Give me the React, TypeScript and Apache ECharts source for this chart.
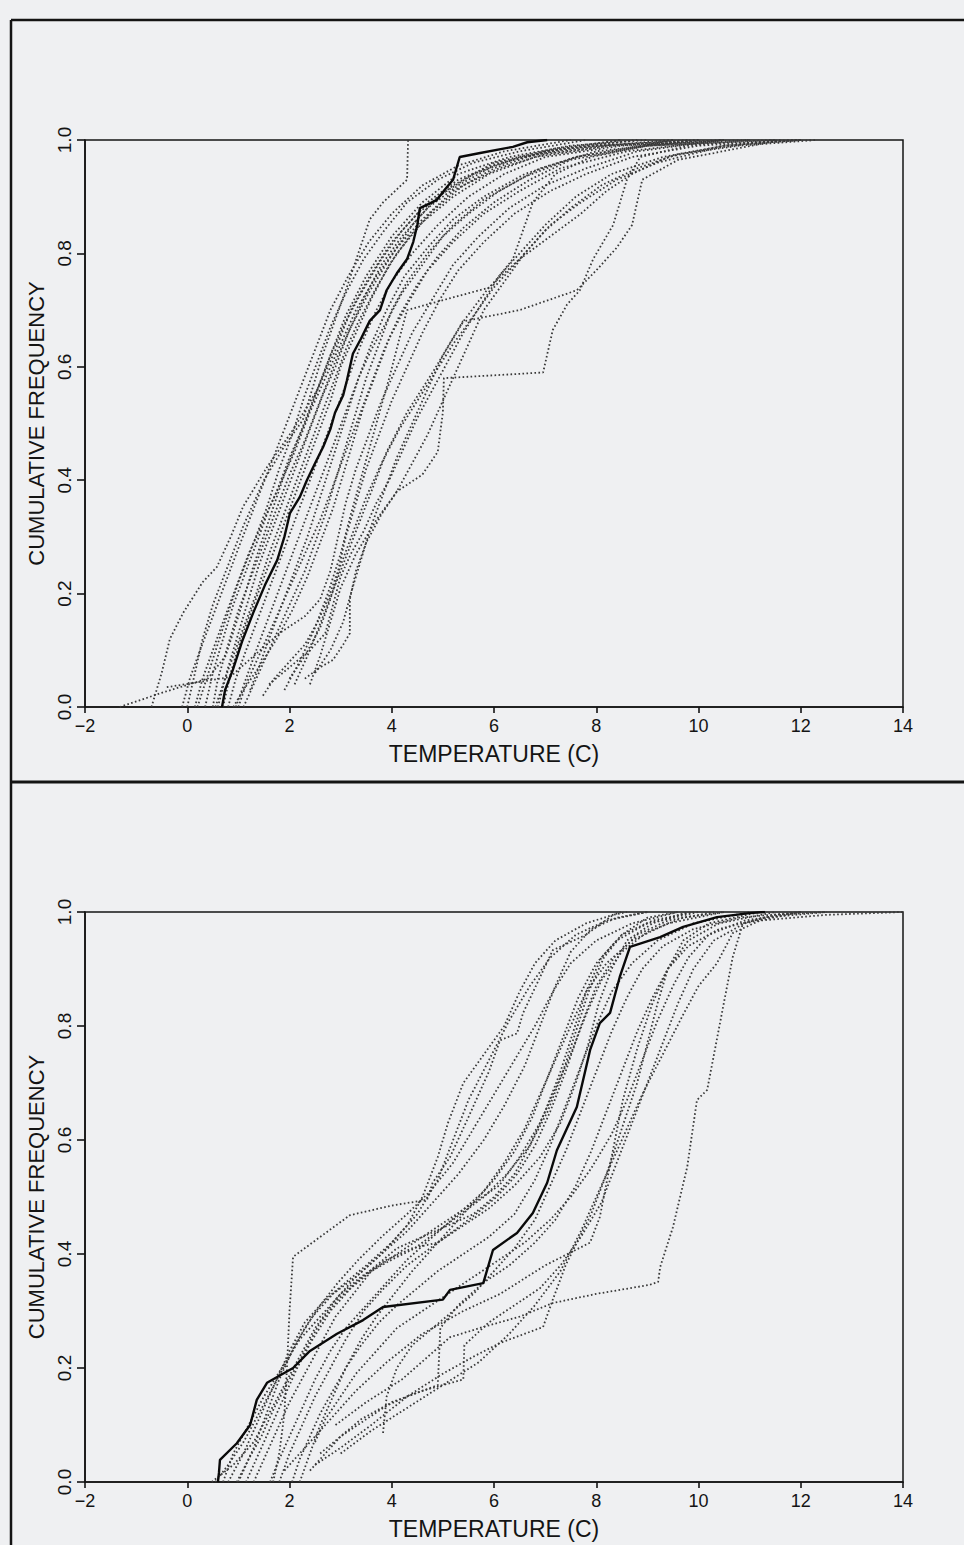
import React, { useEffect, useRef } from "react";
import * as echarts from "echarts";

type Pt = [number, number];

// ---------- axis ticks ----------
const X_MIN = -2;
const X_MAX = 14;
const X_STEP = 2;
const Y_MIN = 0;
const Y_MAX = 1;
const Y_STEP = 0.2;

// ---------- TOP PANEL ----------
const TOP_OBSERVED: Pt[] = [
  [0.68, 0.0], [0.74, 0.03], [0.89, 0.065], [1.07, 0.115], [1.29, 0.166], [1.52, 0.215],
  [1.76, 0.259], [1.9, 0.3], [2.01, 0.342], [2.2, 0.37], [2.34, 0.4], [2.5, 0.43],
  [2.66, 0.459], [2.8, 0.49], [2.89, 0.519], [3.05, 0.55], [3.12, 0.575], [3.24, 0.623],
  [3.4, 0.65], [3.57, 0.681], [3.77, 0.7], [3.9, 0.735], [4.1, 0.765], [4.3, 0.79],
  [4.42, 0.82], [4.5, 0.85], [4.55, 0.88], [4.88, 0.894], [5.08, 0.917], [5.2, 0.93],
  [5.33, 0.97], [5.73, 0.977], [6.37, 0.988], [6.65, 0.996], [7.04, 1.0],
];

const TOP_SIM_01: Pt[] = [[-1.32, 0.0], [-0.5, 0.025], [0.4, 0.05], [0.75, 0.09], [1.0, 0.16], [1.3, 0.25], [1.6, 0.33], [1.9, 0.41], [2.2, 0.48], [2.5, 0.55], [2.8, 0.62], [3.1, 0.69], [3.5, 0.76], [4.0, 0.83], [4.6, 0.89], [5.3, 0.94], [6.3, 0.97], [7.5, 0.99], [9.0, 1.0]];
const TOP_SIM_02: Pt[] = [[-0.7, 0.0], [-0.5, 0.06], [-0.34, 0.12], [-0.08, 0.166], [0.3, 0.22], [0.58, 0.247], [0.85, 0.3], [1.09, 0.353], [1.56, 0.423], [2.07, 0.489], [2.54, 0.559], [2.9, 0.63], [3.2, 0.7], [3.57, 0.76], [4.0, 0.82], [4.5, 0.87], [5.2, 0.92], [6.0, 0.96], [7.2, 0.985], [8.5, 1.0]];
const TOP_SIM_03: Pt[] = [[0.0, 0.0], [0.15, 0.06], [0.3, 0.12], [0.5, 0.18], [0.8, 0.25], [1.1, 0.32], [1.5, 0.4], [1.9, 0.46], [2.26, 0.506], [2.66, 0.624], [3.12, 0.74], [3.57, 0.86], [3.83, 0.89], [4.3, 0.93], [4.32, 1.0]];
const TOP_SIM_04: Pt[] = [[0.15, 0.0], [0.3, 0.05], [0.5, 0.1], [0.7, 0.15], [0.95, 0.21], [1.2, 0.27], [1.5, 0.33], [1.75, 0.38], [2.0, 0.44], [2.3, 0.5], [2.55, 0.56], [2.8, 0.62], [3.1, 0.68], [3.4, 0.73], [3.8, 0.79], [4.2, 0.84], [4.7, 0.89], [5.3, 0.93], [6.1, 0.96], [7.4, 0.985], [9.5, 1.0]];
const TOP_SIM_05: Pt[] = [[0.35, 0.0], [0.5, 0.06], [0.7, 0.12], [0.9, 0.18], [1.15, 0.24], [1.4, 0.3], [1.6, 0.35], [1.85, 0.4], [2.1, 0.45], [2.4, 0.52], [2.7, 0.58], [3.0, 0.64], [3.3, 0.7], [3.7, 0.76], [4.1, 0.81], [4.6, 0.86], [5.2, 0.91], [6.0, 0.95], [7.0, 0.98], [8.8, 1.0]];
const TOP_SIM_06: Pt[] = [[0.5, 0.0], [0.6, 0.05], [0.8, 0.11], [1.0, 0.17], [1.25, 0.23], [1.5, 0.29], [1.75, 0.35], [2.0, 0.41], [2.3, 0.47], [2.6, 0.54], [2.9, 0.61], [3.2, 0.67], [3.55, 0.73], [3.95, 0.79], [4.4, 0.85], [4.9, 0.9], [5.6, 0.94], [6.5, 0.97], [8.0, 0.99], [10.0, 1.0]];
const TOP_SIM_07: Pt[] = [[0.55, 0.0], [0.7, 0.04], [0.9, 0.09], [1.1, 0.14], [1.35, 0.2], [1.6, 0.27], [1.85, 0.33], [2.1, 0.39], [2.35, 0.45], [2.6, 0.51], [2.85, 0.57], [3.1, 0.63], [3.35, 0.68], [3.7, 0.74], [4.1, 0.8], [4.6, 0.855], [5.2, 0.9], [5.9, 0.94], [6.8, 0.97], [8.3, 0.99], [11.0, 1.0]];
const TOP_SIM_08: Pt[] = [[0.8, 0.0], [0.95, 0.05], [1.15, 0.1], [1.4, 0.16], [1.65, 0.22], [1.9, 0.28], [2.15, 0.34], [2.4, 0.4], [2.65, 0.46], [2.9, 0.52], [3.15, 0.58], [3.4, 0.64], [3.7, 0.7], [4.0, 0.75], [4.4, 0.8], [4.9, 0.85], [5.5, 0.9], [6.2, 0.94], [7.0, 0.97], [8.5, 0.99], [10.5, 1.0]];
const TOP_SIM_09: Pt[] = [[1.0, 0.0], [1.15, 0.04], [1.4, 0.09], [1.7, 0.15], [2.0, 0.21], [2.3, 0.27], [2.6, 0.33], [2.85, 0.39], [3.1, 0.45], [3.35, 0.51], [3.6, 0.57], [3.85, 0.63], [4.15, 0.69], [4.5, 0.745], [4.9, 0.795], [5.4, 0.845], [6.0, 0.89], [6.7, 0.93], [7.5, 0.965], [9.0, 0.99], [11.5, 1.0]];
const TOP_SIM_10: Pt[] = [[1.23, 0.03], [1.4, 0.07], [1.6, 0.12], [1.85, 0.18], [2.1, 0.24], [2.35, 0.3], [2.6, 0.37], [2.85, 0.44], [3.1, 0.51], [3.35, 0.58], [3.6, 0.64], [3.9, 0.7], [4.25, 0.76], [4.7, 0.81], [5.2, 0.86], [5.8, 0.9], [6.6, 0.94], [7.6, 0.97], [9.0, 0.99], [12.0, 1.0]];
const TOP_SIM_11: Pt[] = [[1.48, 0.02], [1.7, 0.05], [2.0, 0.08], [2.3, 0.11], [2.55, 0.15], [2.75, 0.19], [2.95, 0.24], [3.1, 0.3], [3.3, 0.36], [3.5, 0.42], [3.75, 0.48], [4.0, 0.54], [4.3, 0.6], [4.6, 0.66], [4.95, 0.72], [5.3, 0.77], [5.8, 0.82], [6.4, 0.87], [7.1, 0.91], [7.8, 0.94], [8.7, 0.97], [10.0, 0.99], [12.0, 1.0]];
const TOP_SIM_12: Pt[] = [[1.6, 0.04], [2.0, 0.07], [2.4, 0.1], [2.7, 0.13], [2.85, 0.18], [3.0, 0.23], [3.2, 0.27], [3.45, 0.31], [3.7, 0.36], [3.95, 0.4], [4.2, 0.45], [4.5, 0.51], [4.8, 0.56], [5.1, 0.61], [5.4, 0.66], [5.75, 0.71], [6.1, 0.76], [6.5, 0.8], [7.0, 0.85], [7.6, 0.9], [8.3, 0.94], [9.3, 0.97], [10.5, 0.99], [12.0, 1.0]];
const TOP_SIM_13: Pt[] = [[2.3, 0.05], [2.6, 0.07], [2.85, 0.083], [3.05, 0.11], [3.18, 0.13], [3.18, 0.19], [3.3, 0.24], [3.5, 0.29], [3.8, 0.34], [4.1, 0.38], [4.4, 0.43], [4.7, 0.48], [4.95, 0.53], [5.2, 0.58], [5.5, 0.64], [5.8, 0.7], [6.2, 0.75], [6.6, 0.8], [7.1, 0.85], [7.7, 0.89], [8.4, 0.93], [9.2, 0.96], [10.3, 0.985], [11.5, 1.0]];
const TOP_SIM_14: Pt[] = [[2.4, 0.04], [2.6, 0.09], [2.8, 0.15], [3.0, 0.21], [3.3, 0.27], [3.7, 0.33], [4.1, 0.38], [4.6, 0.41], [4.9, 0.45], [5.0, 0.52], [5.02, 0.58], [6.0, 0.585], [6.96, 0.59], [7.15, 0.665], [7.43, 0.71], [7.68, 0.735], [7.94, 0.79], [8.33, 0.85], [8.6, 0.93], [8.86, 0.97], [9.8, 0.99], [11.0, 1.0]];
const TOP_SIM_15: Pt[] = [[1.9, 0.03], [2.2, 0.08], [2.5, 0.14], [2.75, 0.2], [3.0, 0.27], [3.2, 0.34], [3.45, 0.42], [3.7, 0.5], [3.95, 0.58], [4.15, 0.65], [4.3, 0.7], [5.1, 0.72], [5.92, 0.74], [6.37, 0.79], [6.76, 0.89], [7.2, 0.94], [7.9, 0.97], [9.0, 0.99], [10.5, 1.0]];
const TOP_SIM_16: Pt[] = [[2.1, 0.04], [2.4, 0.1], [2.7, 0.17], [3.0, 0.24], [3.3, 0.31], [3.6, 0.38], [3.9, 0.45], [4.3, 0.52], [4.8, 0.59], [5.39, 0.68], [6.5, 0.7], [7.62, 0.735], [8.0, 0.77], [8.4, 0.81], [8.7, 0.85], [8.9, 0.93], [9.6, 0.965], [10.3, 0.977], [11.6, 1.0]];
const TOP_SIM_17: Pt[] = [[0.2, 0.0], [0.45, 0.07], [0.7, 0.14], [1.0, 0.22], [1.3, 0.29], [1.55, 0.35], [1.8, 0.42], [2.05, 0.48], [2.3, 0.55], [2.55, 0.61], [2.8, 0.67], [3.1, 0.73], [3.45, 0.79], [3.85, 0.84], [4.3, 0.89], [4.9, 0.93], [5.6, 0.96], [6.5, 0.98], [7.8, 1.0]];
const TOP_SIM_18: Pt[] = [[0.6, 0.0], [0.8, 0.07], [1.0, 0.13], [1.2, 0.19], [1.4, 0.25], [1.65, 0.31], [1.9, 0.37], [2.15, 0.43], [2.4, 0.49], [2.65, 0.55], [2.9, 0.6], [3.15, 0.66], [3.45, 0.72], [3.8, 0.78], [4.2, 0.83], [4.7, 0.88], [5.3, 0.92], [6.0, 0.955], [7.0, 0.98], [8.5, 1.0]];
const TOP_SIM_19: Pt[] = [[0.9, 0.0], [1.1, 0.03], [1.4, 0.07], [1.75, 0.12], [2.05, 0.17], [2.35, 0.23], [2.6, 0.29], [2.85, 0.35], [3.05, 0.41], [3.25, 0.47], [3.45, 0.53], [3.7, 0.59], [3.95, 0.65], [4.3, 0.71], [4.7, 0.77], [5.2, 0.82], [5.8, 0.87], [6.5, 0.91], [7.3, 0.95], [8.6, 0.98], [10.5, 1.0]];
const TOP_SIM_20: Pt[] = [[-0.4, 0.035], [0.3, 0.045], [0.84, 0.053], [1.3, 0.09], [1.8, 0.13], [2.3, 0.16], [2.6, 0.19], [2.8, 0.24], [2.95, 0.3], [3.1, 0.36], [3.3, 0.42], [3.55, 0.48], [3.8, 0.54], [4.1, 0.6], [4.4, 0.66], [4.8, 0.72], [5.2, 0.78], [5.7, 0.83], [6.3, 0.88], [7.0, 0.92], [7.8, 0.95], [8.8, 0.98], [10.5, 1.0]];
const TOP_SIM_21: Pt[] = [[-0.1, 0.0], [0.05, 0.05], [0.25, 0.1], [0.5, 0.16], [0.75, 0.22], [1.0, 0.28], [1.3, 0.35], [1.6, 0.42], [1.9, 0.49], [2.2, 0.56], [2.5, 0.63], [2.8, 0.7], [3.15, 0.76], [3.55, 0.82], [4.0, 0.87], [4.6, 0.92], [5.3, 0.955], [6.2, 0.98], [7.5, 1.0]];
const TOP_SIM_22: Pt[] = [[0.7, 0.0], [0.85, 0.06], [1.05, 0.12], [1.3, 0.18], [1.55, 0.24], [1.8, 0.3], [2.05, 0.36], [2.3, 0.42], [2.55, 0.48], [2.8, 0.54], [3.0, 0.6], [3.3, 0.66], [3.6, 0.72], [3.95, 0.78], [4.35, 0.83], [4.8, 0.875], [5.4, 0.92], [6.1, 0.95], [7.0, 0.975], [8.2, 0.99], [9.8, 1.0]];
const TOP_SIM_23: Pt[] = [[2.0, 0.05], [2.3, 0.09], [2.6, 0.14], [2.8, 0.19], [3.0, 0.25], [3.25, 0.31], [3.5, 0.37], [3.8, 0.43], [4.15, 0.49], [4.5, 0.54], [4.85, 0.59], [5.2, 0.64], [5.6, 0.69], [6.0, 0.74], [6.5, 0.79], [7.0, 0.84], [7.5, 0.88], [8.1, 0.92], [8.8, 0.95], [9.6, 0.975], [10.8, 0.99], [12.3, 1.0]];
const TOP_SIM_24: Pt[] = [[2.5, 0.06], [2.8, 0.1], [3.05, 0.15], [3.2, 0.2], [3.4, 0.26], [3.6, 0.32], [3.85, 0.38], [4.1, 0.44], [4.4, 0.5], [4.7, 0.56], [5.0, 0.62], [5.4, 0.68], [5.9, 0.74], [6.5, 0.79], [7.1, 0.83], [7.7, 0.87], [8.2, 0.91], [8.7, 0.94], [9.4, 0.97], [10.5, 0.99], [12.0, 1.0]];
const TOP_SIM_25: Pt[] = [[1.1, 0.0], [1.3, 0.04], [1.55, 0.09], [1.8, 0.14], [2.05, 0.19], [2.3, 0.24], [2.5, 0.29], [2.7, 0.34], [2.9, 0.4], [3.1, 0.46], [3.3, 0.52], [3.5, 0.58], [3.75, 0.64], [4.0, 0.7], [4.3, 0.75], [4.7, 0.8], [5.2, 0.85], [5.8, 0.895], [6.6, 0.935], [7.6, 0.97], [9.5, 1.0]];
const TOP_SIM_26: Pt[] = [[0.95, 0.0], [1.15, 0.05], [1.35, 0.1], [1.6, 0.16], [1.85, 0.22], [2.1, 0.28], [2.35, 0.34], [2.6, 0.4], [2.85, 0.46], [3.1, 0.52], [3.35, 0.58], [3.6, 0.63], [3.9, 0.68], [4.2, 0.73], [4.6, 0.78], [5.0, 0.83], [5.5, 0.87], [6.1, 0.91], [6.9, 0.95], [8.0, 0.98], [10.0, 1.0]];

const TOP_SIMULATED: Pt[][] = [
  TOP_SIM_01, TOP_SIM_02, TOP_SIM_03, TOP_SIM_04, TOP_SIM_05, TOP_SIM_06, TOP_SIM_07, TOP_SIM_08,
  TOP_SIM_09, TOP_SIM_10, TOP_SIM_11, TOP_SIM_12, TOP_SIM_13, TOP_SIM_14, TOP_SIM_15, TOP_SIM_16,
  TOP_SIM_17, TOP_SIM_18, TOP_SIM_19, TOP_SIM_20, TOP_SIM_21, TOP_SIM_22, TOP_SIM_23, TOP_SIM_24,
  TOP_SIM_25, TOP_SIM_26,
];

// ---------- BOTTOM PANEL ----------
const BOTTOM_OBSERVED: Pt[] = [
  [0.6, 0.0], [0.62, 0.016], [0.64, 0.039], [0.97, 0.068], [1.23, 0.1], [1.36, 0.144],
  [1.56, 0.174], [2.07, 0.2], [2.4, 0.23], [2.93, 0.26], [3.44, 0.284], [3.83, 0.307],
  [5.0, 0.32], [5.14, 0.337], [5.79, 0.349], [5.98, 0.407], [6.45, 0.437], [6.76, 0.472],
  [7.04, 0.525], [7.23, 0.582], [7.62, 0.658], [7.88, 0.758], [8.07, 0.805], [8.27, 0.823],
  [8.46, 0.886], [8.66, 0.939], [9.25, 0.956], [9.7, 0.974], [10.36, 0.991], [11.0, 0.998],
  [11.3, 1.0],
];

const BOT_SIM_01: Pt[] = [[1.68, 0.0], [1.8, 0.05], [1.9, 0.12], [1.95, 0.2], [2.0, 0.3], [2.07, 0.395], [2.6, 0.43], [3.18, 0.468], [4.0, 0.485], [4.69, 0.495], [4.8, 0.525], [5.14, 0.57], [5.5, 0.64], [5.9, 0.72], [6.12, 0.775], [6.45, 0.787], [6.57, 0.823], [7.15, 0.933], [7.8, 0.96], [8.33, 0.995], [8.6, 1.0]];
const BOT_SIM_02: Pt[] = [[0.48, 0.0], [0.9, 0.03], [1.3, 0.07], [1.6, 0.12], [1.9, 0.17], [2.2, 0.22], [2.5, 0.27], [2.9, 0.32], [3.3, 0.36], [3.8, 0.4], [4.3, 0.44], [4.8, 0.49], [5.3, 0.54], [5.8, 0.6], [6.2, 0.66], [6.6, 0.73], [6.9, 0.8], [7.2, 0.87], [7.5, 0.93], [7.9, 0.97], [8.4, 0.99], [9.0, 1.0]];
const BOT_SIM_03: Pt[] = [[0.97, 0.0], [1.2, 0.04], [1.45, 0.08], [1.7, 0.13], [2.0, 0.18], [2.3, 0.23], [2.6, 0.28], [2.95, 0.32], [3.3, 0.35], [3.7, 0.38], [4.1, 0.41], [4.6, 0.43], [5.1, 0.45], [5.6, 0.47], [6.0, 0.5], [6.4, 0.54], [6.7, 0.59], [7.0, 0.65], [7.3, 0.72], [7.55, 0.79], [7.8, 0.86], [8.1, 0.92], [8.5, 0.96], [9.1, 0.985], [9.9, 1.0]];
const BOT_SIM_04: Pt[] = [[1.15, 0.0], [1.4, 0.05], [1.65, 0.1], [1.9, 0.15], [2.15, 0.2], [2.45, 0.25], [2.8, 0.3], [3.2, 0.34], [3.6, 0.37], [4.1, 0.4], [4.6, 0.43], [5.1, 0.46], [5.6, 0.49], [6.1, 0.52], [6.5, 0.57], [6.9, 0.63], [7.2, 0.69], [7.5, 0.75], [7.8, 0.82], [8.1, 0.88], [8.5, 0.93], [9.0, 0.965], [9.7, 0.99], [10.5, 1.0]];
const BOT_SIM_05: Pt[] = [[1.62, 0.0], [1.8, 0.04], [2.0, 0.08], [2.25, 0.13], [2.5, 0.18], [2.8, 0.23], [3.1, 0.27], [3.5, 0.31], [3.9, 0.35], [4.3, 0.39], [4.8, 0.43], [5.3, 0.47], [5.8, 0.51], [6.2, 0.56], [6.6, 0.62], [6.9, 0.68], [7.2, 0.74], [7.5, 0.8], [7.8, 0.86], [8.2, 0.91], [8.7, 0.95], [9.4, 0.98], [10.5, 1.0]];
const BOT_SIM_06: Pt[] = [[2.05, 0.0], [2.2, 0.04], [2.4, 0.08], [2.6, 0.12], [2.85, 0.16], [3.1, 0.2], [3.4, 0.24], [3.75, 0.28], [4.1, 0.31], [4.5, 0.34], [4.9, 0.37], [5.4, 0.4], [5.9, 0.43], [6.4, 0.47], [6.8, 0.53], [7.1, 0.59], [7.4, 0.66], [7.7, 0.73], [8.0, 0.8], [8.3, 0.86], [8.7, 0.91], [9.2, 0.95], [9.9, 0.98], [11.0, 1.0]];
const BOT_SIM_07: Pt[] = [[3.83, 0.086], [3.9, 0.15], [4.1, 0.2], [4.4, 0.24], [4.8, 0.27], [5.2, 0.3], [5.6, 0.33], [6.0, 0.37], [6.4, 0.41], [6.8, 0.46], [7.1, 0.52], [7.4, 0.58], [7.7, 0.65], [8.0, 0.72], [8.3, 0.79], [8.6, 0.85], [8.9, 0.9], [9.3, 0.94], [9.9, 0.97], [10.8, 0.99], [12.0, 1.0]];
const BOT_SIM_08: Pt[] = [[2.4, 0.02], [2.7, 0.05], [3.0, 0.08], [3.4, 0.11], [3.8, 0.13], [4.3, 0.15], [4.9, 0.17], [4.95, 0.27], [5.3, 0.31], [5.8, 0.35], [6.3, 0.38], [6.8, 0.42], [7.2, 0.46], [7.6, 0.52], [7.9, 0.58], [8.2, 0.65], [8.5, 0.72], [8.8, 0.79], [9.1, 0.85], [9.4, 0.9], [9.8, 0.94], [10.4, 0.97], [11.3, 0.99], [12.5, 1.0]];
const BOT_SIM_09: Pt[] = [[2.6, 0.05], [3.0, 0.08], [3.5, 0.11], [4.0, 0.14], [4.6, 0.16], [5.4, 0.18], [5.42, 0.24], [5.9, 0.28], [6.4, 0.31], [6.9, 0.34], [7.3, 0.38], [7.7, 0.43], [8.1, 0.49], [8.4, 0.56], [8.7, 0.63], [9.0, 0.7], [9.3, 0.77], [9.6, 0.84], [9.9, 0.9], [10.3, 0.95], [10.9, 0.98], [12.0, 1.0]];
const BOT_SIM_10: Pt[] = [[2.9, 0.1], [3.5, 0.14], [4.2, 0.18], [5.14, 0.254], [5.79, 0.272], [6.5, 0.29], [7.15, 0.314], [8.0, 0.33], [9.05, 0.346], [9.21, 0.351], [9.25, 0.377], [9.5, 0.447], [9.78, 0.553], [9.97, 0.67], [10.17, 0.688], [10.48, 0.833], [10.67, 0.921], [10.87, 0.98], [11.5, 0.995], [12.5, 1.0]];
const BOT_SIM_11: Pt[] = [[2.5, 0.03], [3.0, 0.06], [3.6, 0.1], [4.3, 0.15], [5.0, 0.19], [5.6, 0.22], [6.12, 0.244], [6.96, 0.272], [7.15, 0.32], [7.4, 0.38], [7.62, 0.42], [7.9, 0.47], [8.2, 0.54], [8.5, 0.62], [8.8, 0.7], [9.0, 0.77], [9.2, 0.84], [9.4, 0.9], [9.7, 0.95], [10.2, 0.98], [11.2, 1.0]];
const BOT_SIM_12: Pt[] = [[1.9, 0.02], [2.3, 0.06], [2.8, 0.11], [3.3, 0.16], [3.9, 0.21], [4.6, 0.26], [5.4, 0.3], [6.12, 0.33], [7.0, 0.38], [7.88, 0.42], [8.07, 0.465], [8.3, 0.57], [8.52, 0.67], [8.8, 0.76], [9.1, 0.84], [9.4, 0.9], [9.8, 0.95], [10.4, 0.98], [11.5, 1.0]];
const BOT_SIM_13: Pt[] = [[3.0, 0.05], [3.6, 0.09], [4.3, 0.13], [5.0, 0.17], [5.7, 0.21], [6.3, 0.26], [6.8, 0.31], [7.3, 0.37], [7.7, 0.44], [8.1, 0.52], [8.5, 0.6], [8.9, 0.68], [9.3, 0.75], [9.7, 0.82], [10.0, 0.87], [10.36, 0.91], [10.67, 0.963], [11.2, 0.985], [12.5, 0.995], [14.0, 1.0]];
const BOT_SIM_14: Pt[] = [[0.8, 0.0], [1.1, 0.05], [1.4, 0.11], [1.7, 0.17], [2.0, 0.23], [2.3, 0.28], [2.7, 0.32], [3.1, 0.35], [3.5, 0.38], [4.0, 0.42], [4.5, 0.47], [4.9, 0.53], [5.2, 0.6], [5.5, 0.67], [5.9, 0.74], [6.3, 0.81], [6.7, 0.87], [7.1, 0.92], [7.6, 0.96], [8.2, 0.985], [9.0, 1.0]];
const BOT_SIM_15: Pt[] = [[1.3, 0.0], [1.5, 0.04], [1.75, 0.09], [2.0, 0.14], [2.3, 0.19], [2.6, 0.24], [2.9, 0.29], [3.25, 0.33], [3.6, 0.37], [4.0, 0.39], [4.45, 0.41], [4.9, 0.44], [5.35, 0.47], [5.8, 0.5], [6.25, 0.54], [6.7, 0.59], [7.05, 0.65], [7.35, 0.72], [7.6, 0.79], [7.85, 0.86], [8.15, 0.92], [8.5, 0.96], [9.0, 0.99], [9.6, 1.0]];
const BOT_SIM_16: Pt[] = [[2.2, 0.0], [2.4, 0.05], [2.6, 0.1], [2.85, 0.15], [3.1, 0.2], [3.4, 0.25], [3.7, 0.29], [4.05, 0.33], [4.4, 0.37], [4.8, 0.41], [5.2, 0.45], [5.6, 0.49], [6.0, 0.53], [6.4, 0.58], [6.75, 0.64], [7.05, 0.71], [7.35, 0.78], [7.65, 0.85], [8.0, 0.91], [8.4, 0.95], [9.0, 0.98], [10.0, 1.0]];
const BOT_SIM_17: Pt[] = [[0.7, 0.0], [0.9, 0.05], [1.2, 0.1], [1.5, 0.15], [1.85, 0.2], [2.2, 0.25], [2.6, 0.29], [3.0, 0.33], [3.4, 0.36], [3.9, 0.39], [4.4, 0.41], [4.9, 0.42], [5.4, 0.45], [5.9, 0.48], [6.4, 0.52], [6.9, 0.57], [7.3, 0.63], [7.6, 0.7], [7.85, 0.77], [8.05, 0.84], [8.3, 0.9], [8.6, 0.95], [9.1, 0.98], [9.8, 1.0]];
const BOT_SIM_18: Pt[] = [[2.5, 0.07], [2.7, 0.11], [3.0, 0.15], [3.3, 0.19], [3.7, 0.23], [4.1, 0.27], [4.6, 0.3], [5.1, 0.33], [5.6, 0.36], [6.1, 0.39], [6.6, 0.42], [7.1, 0.46], [7.5, 0.5], [7.9, 0.55], [8.3, 0.61], [8.6, 0.67], [8.9, 0.74], [9.2, 0.81], [9.5, 0.87], [9.8, 0.92], [10.2, 0.96], [10.9, 0.985], [12.0, 1.0]];
const BOT_SIM_19: Pt[] = [[1.0, 0.0], [1.3, 0.06], [1.55, 0.12], [1.8, 0.18], [2.1, 0.24], [2.45, 0.29], [2.85, 0.33], [3.3, 0.36], [3.8, 0.4], [4.3, 0.45], [4.6, 0.5], [4.9, 0.57], [5.1, 0.63], [5.4, 0.7], [5.8, 0.75], [6.2, 0.8], [6.5, 0.86], [6.8, 0.91], [7.2, 0.95], [7.8, 0.98], [8.5, 1.0]];
const BOT_SIM_20: Pt[] = [[1.8, 0.0], [2.0, 0.05], [2.25, 0.1], [2.5, 0.15], [2.8, 0.2], [3.1, 0.25], [3.45, 0.3], [3.85, 0.34], [4.3, 0.38], [4.75, 0.41], [5.2, 0.44], [5.65, 0.47], [6.05, 0.5], [6.45, 0.54], [6.8, 0.59], [7.1, 0.65], [7.4, 0.72], [7.7, 0.8], [8.0, 0.87], [8.35, 0.92], [8.8, 0.96], [9.4, 0.985], [10.3, 1.0]];
const BOT_SIM_21: Pt[] = [[0.55, 0.0], [0.8, 0.03], [1.1, 0.07], [1.4, 0.12], [1.7, 0.17], [2.0, 0.22], [2.3, 0.27], [2.6, 0.31], [2.95, 0.35], [3.35, 0.39], [3.8, 0.43], [4.3, 0.47], [4.75, 0.51], [5.2, 0.56], [5.6, 0.62], [6.0, 0.68], [6.4, 0.74], [6.8, 0.8], [7.15, 0.86], [7.5, 0.91], [8.0, 0.95], [8.7, 0.98], [9.6, 1.0]];

const BOTTOM_SIMULATED: Pt[][] = [
  BOT_SIM_01, BOT_SIM_02, BOT_SIM_03, BOT_SIM_04, BOT_SIM_05, BOT_SIM_06, BOT_SIM_07,
  BOT_SIM_08, BOT_SIM_09, BOT_SIM_10, BOT_SIM_11, BOT_SIM_12, BOT_SIM_13, BOT_SIM_14,
  BOT_SIM_15, BOT_SIM_16, BOT_SIM_17, BOT_SIM_18, BOT_SIM_19, BOT_SIM_20, BOT_SIM_21,
];

const X_TITLE = "TEMPERATURE (C)";
const Y_TITLE = "CUMULATIVE FREQUENCY";

// ---------- styling ----------
const FONT = "'Liberation Sans', Arial, Helvetica, sans-serif";
const INK = "#141414";
const BG = "#eff0f2";

function buildOption(): echarts.EChartsCoreOption {
  const grids = [
    { left: 85, top: 140, width: 818, height: 567 },
    { left: 85, top: 912, width: 818, height: 570 },
  ].map((g) => ({
    ...g,
    show: true,
    borderColor: INK,
    borderWidth: 1.5,
    backgroundColor: "transparent",
    containLabel: false,
  }));

  const xAxes = [0, 1].map((i) => ({
    type: "value",
    gridIndex: i,
    min: X_MIN,
    max: X_MAX,
    interval: X_STEP,
    name: X_TITLE,
    nameLocation: "middle",
    nameGap: 35,
    nameTextStyle: { fontFamily: FONT, fontSize: 23, color: INK },
    axisLine: { show: true, onZero: false, lineStyle: { color: INK, width: 1.6 } },
    axisTick: { show: true, inside: false, length: 6, lineStyle: { color: INK, width: 1.6 } },
    axisLabel: {
      show: true,
      margin: 10,
      fontFamily: FONT,
      fontSize: 18,
      color: INK,
      formatter: (v: number) => (v < 0 ? "\u2212" + Math.abs(v) : String(v)),
    },
    splitLine: { show: false },
  }));

  const yAxes = [0, 1].map((i) => ({
    type: "value",
    gridIndex: i,
    min: Y_MIN,
    max: Y_MAX,
    interval: Y_STEP,
    name: Y_TITLE,
    nameLocation: "middle",
    nameGap: 35,
    nameTextStyle: { fontFamily: FONT, fontSize: 22, color: INK },
    axisLine: { show: true, onZero: false, lineStyle: { color: INK, width: 1.6 } },
    axisTick: { show: true, inside: false, length: 8, lineStyle: { color: INK, width: 1.6 } },
    axisLabel: {
      show: true,
      rotate: 90,
      margin: 11,
      fontFamily: FONT,
      fontSize: 19,
      color: INK,
      formatter: (v: number) => v.toFixed(1),
    },
    splitLine: { show: false },
  }));

  const dotted = (data: Pt[], idx: number, k: number) => ({
    type: "line",
    name: `sim-${idx}-${k + 1}`,
    xAxisIndex: idx,
    yAxisIndex: idx,
    data,
    showSymbol: false,
    symbol: "none",
    silent: true,
    clip: true,
    lineStyle: { color: "#383838", width: 1.8, type: [1.6, 2.4] },
    z: 2,
  });
  const solid = (data: Pt[], idx: number) => ({
    type: "line",
    name: `observed-${idx}`,
    xAxisIndex: idx,
    yAxisIndex: idx,
    data,
    showSymbol: false,
    symbol: "none",
    silent: true,
    clip: true,
    lineStyle: { color: "#0a0a0a", width: 2.4, type: "solid" },
    z: 3,
  });

  const series = [
    ...TOP_SIMULATED.map((d, k) => dotted(d, 0, k)),
    solid(TOP_OBSERVED, 0),
    ...BOTTOM_SIMULATED.map((d, k) => dotted(d, 1, k)),
    solid(BOTTOM_OBSERVED, 1),
  ];

  const frame = { stroke: INK, lineWidth: 2.5 };
  return {
    animation: false,
    backgroundColor: BG,
    grid: grids,
    xAxis: xAxes,
    yAxis: yAxes,
    series,
    graphic: [
      { type: "line", silent: true, shape: { x1: 11, y1: 20, x2: 11, y2: 1545 }, style: frame },
      { type: "line", silent: true, shape: { x1: 11, y1: 20, x2: 964, y2: 20 }, style: frame },
      { type: "line", silent: true, shape: { x1: 11, y1: 782, x2: 964, y2: 782 }, style: { stroke: INK, lineWidth: 3 } },
    ],
  };
}

export default function App() {
  const ref = useRef<HTMLDivElement>(null);
  useEffect(() => {
    document.body.style.margin = "0";
    if (!ref.current) return;
    const chart = echarts.init(ref.current, null, { renderer: "svg" });
    chart.setOption(buildOption());
    return () => {
      chart.dispose();
    };
  }, []);
  return <div ref={ref} style={{ width: 964, height: 1545, background: BG }} />;
}
